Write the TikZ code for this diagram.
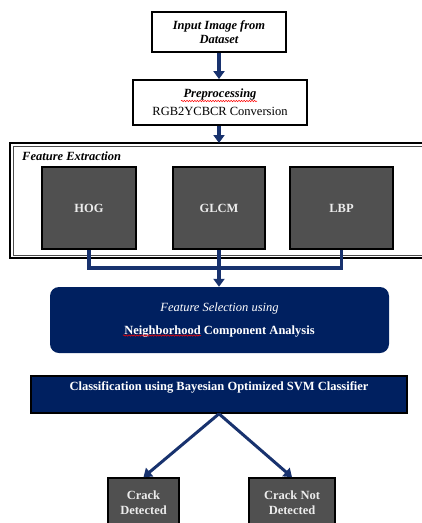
\documentclass[tikz,border=0pt]{standalone}
\usepackage{fontspec}
\setmainfont{Liberation Serif}
\usetikzlibrary{arrows.meta,decorations.pathmorphing}
\definecolor{navy}{RGB}{0,32,96}
\definecolor{arrowblue}{RGB}{24,50,110}
\definecolor{boxgray}{RGB}{80,80,80}
\definecolor{lighttext}{RGB}{236,236,236}
\begin{document}
\begin{tikzpicture}[x=1pt,y=-1pt,
  fnt/.style={font=\fontsize{12.5}{13.5}\selectfont},
  fntbi/.style={font=\fontsize{12.5}{13.5}\selectfont\bfseries\itshape},
  fntb/.style={font=\fontsize{12.5}{15}\selectfont\bfseries},
  whitebox/.style={draw=black, line width=1.8pt, fill=white, inner sep=0pt, align=center},
  graybox/.style={draw=black, line width=1.6pt, fill=boxgray, text=lighttext, inner sep=0pt, align=center, fntb},
  frameouter/.style={draw=black, line width=1.2pt},
  frameinner/.style={draw=black!70, line width=0.6pt},
  navybox/.style={fill=navy, text=white, inner sep=0pt, align=center},
  conn/.style={draw=arrowblue, line width=3.4pt},
  arr/.style={conn, -{Triangle[width=11pt,length=8pt]}},
  squig/.style={draw=red, line width=0.5pt, decorate, decoration={snake, amplitude=0.7pt, segment length=2.6pt}}
]
\useasboundingbox (0,0) rectangle (422,523);

% boxes
\node[whitebox, fntbi, minimum width=134pt, minimum height=40pt] (inp) at (219,32)
  {Input Image from\\Dataset};
\node[whitebox, fnt, minimum width=174pt, minimum height=45pt] (pre) at (220,102.5)
  {\textbf{\textit{Preprocessing}}\\[4.5pt]RGB2YCBCR Conversion};
\draw[frameouter] (422,143) -- (10,143) -- (10,258) -- (422,258);
\draw[frameinner] (422,145.8) -- (12.8,145.8) -- (12.8,255.2) -- (422,255.2);
\coordinate (fetop) at (219,143);
\node[fntbi, anchor=west, inner sep=0pt] (fetitle) at (22,156) {Feature Extraction};

\node[graybox, minimum width=94pt, minimum height=82pt] (hog) at (89,208) {HOG};
\node[graybox, minimum width=92pt, minimum height=82pt] (glcm) at (219,208) {GLCM};
\node[graybox, minimum width=103pt, minimum height=82pt] (lbp) at (341.5,208) {LBP};

\coordinate (j) at (219,268);

\node[navybox, fnt, rounded corners=9pt, minimum width=339pt, minimum height=66pt] (fs) at (219.5,320)
  {\textit{Feature Selection using}\\[9.5pt]\textbf{Neighborhood Component Analysis}};

\node[navybox, draw=black, line width=1.6pt, minimum width=376pt, minimum height=37pt,
  label={[anchor=center, yshift=-12pt, text=white, fntb]north:Classification using Bayesian Optimized SVM Classifier}] (cls) at (219,394.5) {};

\node[graybox, minimum width=71pt, minimum height=50pt] (cd) at (143.5,503) {Crack\\Detected};
\node[graybox, minimum width=86pt, minimum height=50pt] (cnd) at (292,503) {Crack Not\\Detected};

% spell-check squiggles
\draw[squig] (181,101) -- (257,101);
\draw[squig] (123,335.5) -- (201,335.5);

% connectors
\draw[arr] (inp.south) -- (inp.south |- pre.north);
\draw[arr] (inp.south |- pre.south) -- (fetop);
\draw[conn, line join=miter] (hog.south) -- (hog.south |- j) -- (lbp.south |- j) -- (lbp.south);
\draw[arr] (glcm.south) -- (glcm.south |- fs.north);
\draw[arr, line width=3pt] (cls.south) -- (cd.north);
\draw[arr, line width=3pt] (cls.south) -- (cnd.north);
\end{tikzpicture}
\end{document}
